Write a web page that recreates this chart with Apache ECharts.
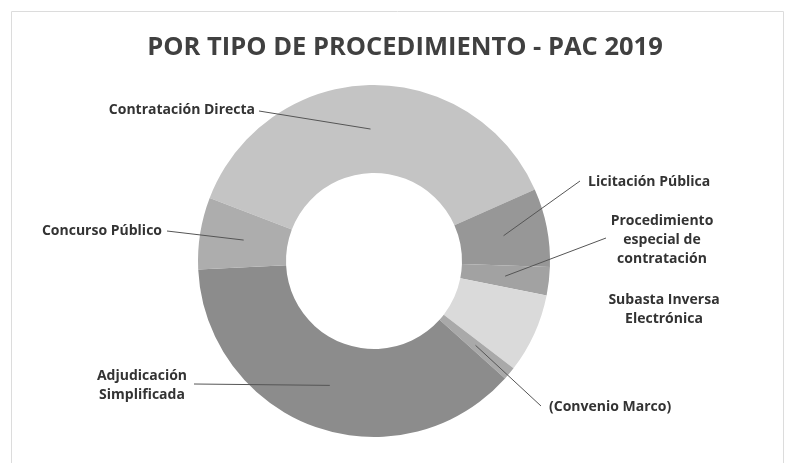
<!DOCTYPE html>
<html>
<head>
<meta charset="utf-8">
<script src="https://cdn.jsdelivr.net/npm/echarts@6/dist/echarts.min.js"></script>
<style>
  html, body { margin: 0; padding: 0; background: #fff; }
  #chart { width: 785px; height: 463px; }
</style>
</head>
<body>
<div id="chart"></div>
<script>
// data (share of the ring, in %)
const categories = [
  "Contratación Directa",
  "Licitación Pública",
  "Procedimiento especial de contratación",
  "Subasta Inversa Electrónica",
  "(Convenio Marco)",
  "Adjudicación Simplificada",
  "Concurso Público"
]
const labelText = [
  "Contratación Directa",
  "Licitación Pública",
  "Procedimiento\nespecial de\ncontratación",
  "Subasta Inversa\nElectrónica",
  "(Convenio Marco)",
  "Adjudicación\nSimplificada",
  "Concurso Público"
]
const values = [37.5, 7.2, 2.6, 7.3, 1.2, 37.6, 6.6]
const colors = ["#c4c4c4", "#979797", "#a2a2a2", "#dadada", "#a9a9a9", "#8c8c8c", "#adadad"]

const CX = 374
const CY = 261
const R = 176

// where each label sits: [x, y, align]
const labelPos = [
  [255, 110, "right"],
  [588, 182, "left"],
  [662, 240, "center"],
  [664, 310, "center"],
  [549, 407, "left"],
  [142, 386, "center"],
  [162, 231, "right"]
]
// label end of each leader line (null = no line)
const lineEnd = [
  [259, 111],
  [580, 181],
  [606, 238],
  null,
  [541, 406],
  [194, 384],
  [167, 231]
]

const chart = echarts.init(document.getElementById("chart"))

chart.setOption({
  animation: false,
  title: {
    text: "POR TIPO DE PROCEDIMIENTO - PAC 2019",
    left: 400,
    top: 30,
    textAlign: "center",
    textStyle: {
      fontFamily: "Open Sans",
      fontSize: 25.5,
      fontWeight: "bold",
      color: "#404040"
    }
  },
  series: [
    {
      type: "pie",
      center: [CX, CY],
      radius: [R * 0.5, R],
      startAngle: 159,
      clockwise: true,
      avoidLabelOverlap: false,
      data: categories.map((name, i) => ({
        name: name,
        value: values[i],
        itemStyle: { color: colors[i] }
      })),
      label: {
        show: true,
        position: "outside",
        formatter: (p) => labelText[p.dataIndex],
        fontFamily: "Open Sans",
        fontWeight: "bold",
        fontSize: 14,
        lineHeight: 19,
        color: "#333333"
      },
      labelLine: { show: false },
      emphasis: { disabled: true },
      labelLayout: function (params) {
        const pos = labelPos[params.dataIndex]
        return { x: pos[0], y: pos[1], align: pos[2], verticalAlign: "middle" }
      }
    }
  ]
})

// leader lines: from the middle of the ring at each slice's mid angle to its label
const pieData = chart.getModel().getSeriesByIndex(0).getData()
const leaders = []
lineEnd.forEach((end, i) => {
  if (!end) return
  const lay = pieData.getItemLayout(i)
  const mid = (lay.startAngle + lay.endAngle) / 2
  const rm = (lay.r + lay.r0) / 2
  leaders.push({
    type: "polyline",
    silent: true,
    z: 100,
    shape: { points: [[lay.cx + rm * Math.cos(mid), lay.cy + rm * Math.sin(mid)], end] },
    style: { stroke: "#555555", lineWidth: 1, fill: "none" }
  })
})

chart.setOption({
  graphic: [
    {
      type: "rect",
      silent: true,
      shape: { x: 11.5, y: 11.5, width: 772, height: 460 },
      style: { fill: "none", stroke: "#dcdcdc", lineWidth: 1 }
    }
  ].concat(leaders)
})
</script>
</body>
</html>
